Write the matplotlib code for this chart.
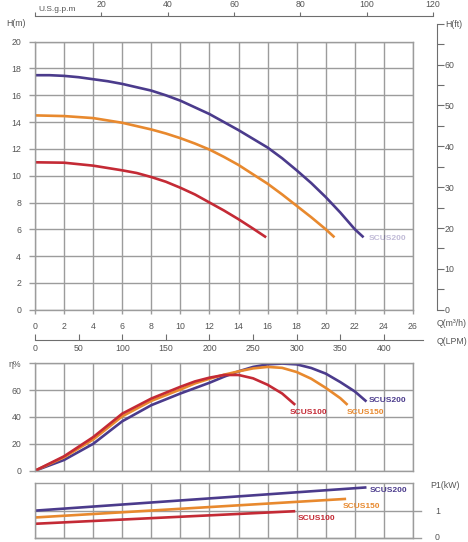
import matplotlib
matplotlib.use('Agg')
import matplotlib.pyplot as plt

W, H = 468, 542
fig = plt.figure(figsize=(W / 100, H / 100), dpi=100)
plt.rcParams['font.family'] = ['Liberation Sans', 'DejaVu Sans']

GRID = '#9c9c9c'
AX = '#6e6e6e'
TXT = '#555555'
PURPLE = '#4b3b8c'
ORANGE = '#e8892e'
RED = '#c42a35'

# ---------------- data ----------------
# Head curves: Q (m3/h) vs H (m)
q_200 = [0, 1, 2, 3, 4, 5, 6, 7, 8, 9, 10, 11, 12, 13, 14, 15, 16, 17, 18, 19, 20, 21, 22, 22.6]
h_200 = [17.5, 17.5, 17.45, 17.35, 17.2, 17.05, 16.85, 16.6, 16.35, 16.0, 15.6, 15.1, 14.6,
         14.0, 13.4, 12.75, 12.1, 11.3, 10.4, 9.45, 8.4, 7.25, 6.0, 5.4]
q_150 = [0, 2, 4, 6, 8, 9, 10, 11, 12, 13, 14, 15, 16, 17, 18, 19, 20, 20.6]
h_150 = [14.5, 14.45, 14.3, 13.95, 13.45, 13.15, 12.8, 12.4, 11.95, 11.4, 10.8, 10.1, 9.4,
         8.6, 7.75, 6.9, 6.0, 5.4]
q_100 = [0, 2, 4, 6, 7, 8, 9, 10, 11, 12, 13, 14, 15, 15.9]
h_100 = [11.0, 10.97, 10.75, 10.4, 10.2, 9.9, 9.55, 9.1, 8.6, 8.0, 7.4, 6.75, 6.05, 5.4]

# Efficiency curves: Q (m3/h) vs eta (%)
eq_200 = [0, 2, 4, 6, 8, 10, 11, 12, 13, 14, 15, 16, 17, 18, 19, 20, 21, 22, 22.8]
eta_200 = [0, 8, 20, 36.8, 48.8, 57.5, 61.5, 65.5, 70, 74, 77.3, 79.2, 79.8, 79.2, 76.5,
           72.3, 66, 59, 51.5]
eq_150 = [0, 2, 4, 6, 8, 10, 11, 12, 13, 14, 15, 16, 17, 18, 19, 20, 21, 21.5]
eta_150 = [0, 10, 23.2, 40.5, 52, 60.5, 65, 68.5, 71.5, 74, 76.2, 77.3, 76.6, 73.5, 68.5,
           61.7, 54, 49]
eq_100 = [0, 2, 4, 6, 8, 10, 11, 12, 13, 14, 15, 16, 17, 17.9]
eta_100 = [0, 10.75, 25, 42.5, 53.75, 62.5, 66.5, 69.3, 71.3, 71.3, 68.8, 64, 57.5, 49]

# Power curves: Q (m3/h) vs P1 (kW)
pq_200 = [0, 22.8]
p_200 = [1.0, 1.85]
pq_150 = [0, 21.4]
p_150 = [0.75, 1.43]
pq_100 = [0, 17.9]
p_100 = [0.52, 0.98]

q_ticks = list(range(0, 27, 2))
h_ticks = list(range(0, 21, 2))
gpm_ticks = [0, 20, 40, 60, 80, 100, 120]
gpm_labels = ['', '20', '40', '60', '80', '100', '120']
lpm_ticks = [0, 50, 100, 150, 200, 250, 300, 350, 400]
ft_ticks = list(range(0, 71, 5))
ft_labels = {0: '0', 10: '10', 20: '20', 30: '30', 40: '40', 50: '50', 60: '60', 70: 'H(ft)'}
eta_ticks = [0, 20, 40, 60, 80]
eta_labels = ['0', '20', '40', '60', 'η%']

# ---------------- helpers ----------------
def rect(l, t, r, b):
    return [l / W, 1 - b / H, (r - l) / W, (b - t) / H]

def ftext(px, py, s, **kw):
    kw.setdefault('fontsize', 6.3)
    kw.setdefault('color', TXT)
    kw.setdefault('va', 'center')
    kw.setdefault('ha', 'left')
    fig.text(px / W, 1 - py / H, s, **kw)

def style_grid_axes(ax):
    for sp in ax.spines.values():
        sp.set_color(GRID)
        sp.set_linewidth(1.0)
    ax.grid(True, color=GRID, linewidth=1.0)
    ax.set_axisbelow(True)
    ax.tick_params(colors=GRID, labelcolor=TXT, labelsize=6.3, width=1.0)

LEFT, RIGHT = 35, 413
LW = 1.9
LBL = dict(fontsize=6, fontweight='bold')

# ---------------- main head chart ----------------
ax = fig.add_axes(rect(LEFT, 41.7, RIGHT, 309.7))
style_grid_axes(ax)
ax.set_xlim(0, 26)
ax.set_ylim(0, 20)
ax.set_xticks(q_ticks)
ax.set_yticks(h_ticks)
ax.tick_params(axis='y', length=4, pad=6)
ax.tick_params(axis='x', length=3, pad=6)
ax.plot(q_200, h_200, color=PURPLE, lw=LW, solid_capstyle='butt')
ax.plot(q_150, h_150, color=ORANGE, lw=LW, solid_capstyle='butt')
ax.plot(q_100, h_100, color=RED, lw=LW, solid_capstyle='butt')
ftext(369, 238, 'SCUS200', color=PURPLE, alpha=0.35, **LBL)

# top U.S. gpm axis
axg = fig.add_axes(rect(LEFT, 15.5, 433, 15.6))
axg.set_xlim(0, 120)
axg.set_yticks([])
for k in ['left', 'right', 'bottom']:
    axg.spines[k].set_visible(False)
axg.spines['top'].set_color(AX)
axg.xaxis.set_ticks_position('top')
axg.set_xticks(gpm_ticks)
axg.set_xticklabels(gpm_labels)
axg.tick_params(axis='x', direction='out', length=3, color=AX, labelsize=6.3,
                labelcolor=TXT, pad=1.5)
axg.patch.set_visible(False)
ftext(38, 9.3, 'U.S.g.p.m', fontsize=6)

# right H(ft) axis
ft_top = 309.7 - 70 * 0.3048 * (268.0 / 20)
axf = fig.add_axes(rect(436.6, ft_top, 436.7, 309.7))
axf.set_ylim(0, 70)
axf.set_xticks([])
for k in ['left', 'top', 'bottom']:
    axf.spines[k].set_visible(False)
axf.spines['right'].set_color(AX)
axf.yaxis.set_ticks_position('right')
axf.set_yticks(ft_ticks)
axf.set_yticklabels([ft_labels.get(t, '') for t in ft_ticks])
axf.tick_params(axis='y', direction='out', length=5, color=AX, labelsize=6.3,
                labelcolor=TXT, pad=0.8)
axf.patch.set_visible(False)

# bottom LPM axis
px_per_q = (RIGHT - LEFT) / 26.0
lpm_max = (423 - LEFT) / px_per_q * (1000 / 60)
axl = fig.add_axes(rect(LEFT, 339.6, 423, 339.7))
axl.set_xlim(0, lpm_max)
axl.set_yticks([])
for k in ['left', 'right', 'top']:
    axl.spines[k].set_visible(False)
axl.spines['bottom'].set_color(AX)
axl.set_xticks(lpm_ticks)
axl.tick_params(axis='x', direction='in', length=4, color=AX, labelsize=6.3,
                labelcolor=TXT, pad=3)
axl.patch.set_visible(False)

ftext(6, 23.3, 'H(m)')
ftext(436.5, 324, 'Q(m³/h)')
ftext(436.5, 341, 'Q(LPM)')

# ---------------- efficiency chart ----------------
axe = fig.add_axes(rect(LEFT, 363.3, RIGHT, 470.7))
style_grid_axes(axe)
axe.set_xlim(0, 26)
axe.set_ylim(0, 80)
axe.set_xticks(q_ticks)
axe.set_xticklabels([])
axe.set_yticks(eta_ticks)
axe.set_yticklabels(eta_labels)
axe.tick_params(axis='y', length=4, pad=6)
axe.tick_params(axis='x', length=0)
axe.plot(eq_200, eta_200, color=PURPLE, lw=LW, solid_capstyle='butt')
axe.plot(eq_150, eta_150, color=ORANGE, lw=LW, solid_capstyle='butt')
axe.plot(eq_100, eta_100, color=RED, lw=LW, solid_capstyle='butt')
ftext(369, 400, 'SCUS200', color=PURPLE, **LBL)
ftext(290, 413, 'SCUS100', color=RED, **LBL)
ftext(347, 413, 'SCUS150', color=ORANGE, **LBL)

# ---------------- power chart ----------------
axp = fig.add_axes(rect(LEFT, 483.3, RIGHT, 538))
style_grid_axes(axp)
axp.grid(False)
axp.grid(True, axis='x', color=GRID, linewidth=1.0)
axp.set_xlim(0, 26)
axp.set_ylim(0, 2)
axp.set_xticks(q_ticks)
axp.set_xticklabels([])
axp.set_yticks([])
axp.tick_params(axis='x', length=0)
axp.axhline(1, xmin=0, xmax=1.02, color=GRID, lw=1.0, clip_on=False)
axp.axhline(0, xmin=0, xmax=1.02, color=GRID, lw=1.0, clip_on=False)
axp.plot(pq_200, p_200, color=PURPLE, lw=LW, solid_capstyle='butt')
axp.plot(pq_150, p_150, color=ORANGE, lw=LW, solid_capstyle='butt')
axp.plot(pq_100, p_100, color=RED, lw=LW, solid_capstyle='butt')
ftext(370, 491, 'SCUS200', color=PURPLE, **LBL)
ftext(343, 506, 'SCUS150', color=ORANGE, **LBL)
ftext(297.5, 518, 'SCUS100', color=RED, **LBL)
ftext(430, 486, 'P1(kW)')
ftext(435, 512, '1')
ftext(435, 538, '0')

fig.savefig('out.png', dpi=100)
